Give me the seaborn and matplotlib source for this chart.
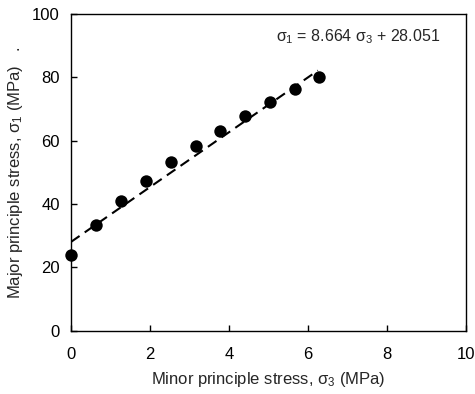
import matplotlib
matplotlib.use("Agg")
import matplotlib.pyplot as plt
import seaborn as sns
import numpy as np
import pandas as pd

# Data
sigma3 = [0.0, 0.63, 1.27, 1.90, 2.52, 3.16, 3.78, 4.41, 5.03, 5.66, 6.27]
sigma1 = [23.9, 33.4, 41.0, 47.3, 53.2, 58.4, 63.1, 67.7, 72.3, 76.4, 80.3]
slope = 8.664
intercept = 28.051
fit_x = [0.0, 6.25]
x_ticks = [0, 2, 4, 6, 8, 10]
y_ticks = [0, 20, 40, 60, 80, 100]

sns.set_theme(style="white")
plt.rcParams['font.family'] = ['Liberation Sans', 'DejaVu Sans']
plt.rcParams['mathtext.fontset'] = 'custom'
plt.rcParams['mathtext.rm'] = 'Liberation Sans'
plt.rcParams['mathtext.it'] = 'Liberation Sans'

fig = plt.figure(figsize=(4.75, 3.94), dpi=100)
ax = fig.add_axes([0.1495, 0.1607, 0.8315, 0.8033])

df = pd.DataFrame({"s3": sigma3, "s1": sigma1})
fit = pd.DataFrame({"x": fit_x, "y": [slope * v + intercept for v in fit_x]})

sns.lineplot(data=fit, x="x", y="y", ax=ax, color="black", linewidth=1.5,
             dashes=False)
ax.lines[-1].set_dashes((5, 3))
sns.scatterplot(data=df, x="s3", y="s1", ax=ax, color="black", s=80,
                edgecolor="black", linewidth=0, zorder=3, clip_on=False)

ax.set_xlim(0, 10)
ax.set_ylim(0, 100)
ax.set_xticks(x_ticks)
ax.set_yticks(y_ticks)
ax.tick_params(direction="in", length=4, width=1, labelsize=12, colors="black",
               top=False, right=False, bottom=True, left=True)
ax.tick_params(axis="x", pad=11.5)
ax.tick_params(axis="y", pad=8)
for sp in ax.spines.values():
    sp.set_color("black")
    sp.set_linewidth(1.0)

ax.set_xlabel(r"Minor principle stress, $\sigma_3$ (MPa)", fontsize=12, labelpad=6)
ax.set_ylabel(r"Major principle stress, $\sigma_1$ (MPa)   .", fontsize=12, labelpad=5)

ax.text(7.28, 92.8, r"$\sigma_1$ = 8.664 $\sigma_3$ + 28.051", fontsize=11.5,
        ha="center", va="center")

fig.savefig("out.png", dpi=100)
